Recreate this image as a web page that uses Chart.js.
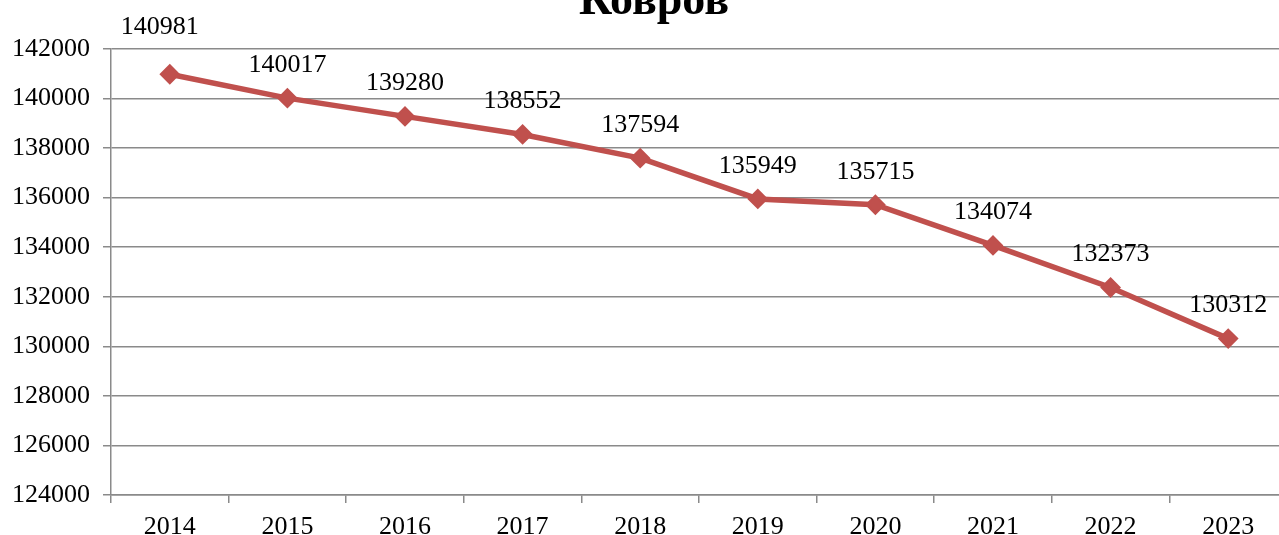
<!DOCTYPE html>
<html>
<head>
<meta charset="utf-8">
<title>Ковров</title>
<script src="https://cdn.jsdelivr.net/npm/chart.js@4/dist/chart.umd.min.js"></script>
<style>
    html, body { margin: 0; padding: 0; background: #fff; overflow: hidden; }
    #wrap { position: relative; width: 1298px; height: 535px; }
</style>
</head>
<body>
<div id="wrap"><canvas id="populationChart"></canvas></div>
<script>
// Chart data
const chartTitle = 'Ковров';
const years = ['2014', '2015', '2016', '2017', '2018', '2019', '2020', '2021', '2022', '2023'];
const population = [140981, 140017, 139280, 138552, 137594, 135949, 135715, 134074, 132373, 130312];
const yMin = 124000;
const yMax = 142000;
const yStep = 2000;

const serif = '"Liberation Serif", "Times New Roman", serif';
const lineColor = '#C0504D';
const gridColor = '#8a8a8a';

// Title drawn on the canvas, partly cut off at the top like the source
const titlePlugin = {
    id: 'cutTitle',
    afterDraw(chart) {
        const ctx = chart.ctx;
        ctx.save();
        ctx.font = 'bold 46px ' + serif;
        ctx.fillStyle = '#000';
        ctx.textAlign = 'center';
        ctx.textBaseline = 'alphabetic';
        ctx.fillText(chartTitle, 654, 14);
        ctx.restore();
    }
};

// Value labels above each point
const valueLabels = {
    id: 'valueLabels',
    afterDatasetsDraw(chart) {
        const ctx = chart.ctx;
        const meta = chart.getDatasetMeta(0);
        ctx.save();
        ctx.font = '26px ' + serif;
        ctx.fillStyle = '#000';
        ctx.textAlign = 'center';
        ctx.textBaseline = 'middle';
        meta.data.forEach((pt, i) => {
            // first label sits higher and a bit to the left
            const dx = i === 0 ? -10 : 0;
            const dy = i === 0 ? 47 : 33;
            ctx.fillText(String(chart.data.datasets[0].data[i]), pt.x + dx, pt.y - dy);
        });
        ctx.restore();
    }
};

new Chart(document.getElementById('populationChart'), {
    type: 'line',
    data: {
        labels: years,
        datasets: [{
            label: chartTitle,
            data: population,
            borderColor: lineColor,
            backgroundColor: lineColor,
            borderWidth: 5.5,
            pointStyle: 'rectRot',
            pointRadius: 9,
            pointBorderWidth: 2,
            pointBackgroundColor: lineColor,
            pointBorderColor: lineColor,
            tension: 0,
            fill: false
        }]
    },
    options: {
        responsive: true,
        maintainAspectRatio: false,
        animation: false,
        layout: { padding: { top: 49, left: 0, right: 0, bottom: 0 } },
        plugins: {
            legend: { display: false },
            title: { display: false },
            tooltip: { enabled: false }
        },
        scales: {
            x: {
                offset: true,
                grid: {
                    offset: true,
                    drawOnChartArea: false,
                    tickLength: 8,
                    color: gridColor,
                    lineWidth: 1.5
                },
                border: { color: gridColor, width: 1.5 },
                ticks: {
                    color: '#000',
                    font: { family: serif, size: 26 },
                    padding: 9,
                    maxRotation: 0,
                    autoSkip: false
                },
                afterFit(scale) { scale.height = 40; }
            },
            y: {
                min: yMin,
                max: yMax,
                grid: {
                    color: gridColor,
                    lineWidth: 1.5,
                    tickLength: 8
                },
                border: { color: gridColor, width: 1.5 },
                ticks: {
                    stepSize: yStep,
                    color: '#000',
                    font: { family: serif, size: 26 },
                    padding: 13,
                    callback: value => String(value)
                },
                afterFit(scale) { scale.width = 111; }
            }
        }
    },
    plugins: [titlePlugin, valueLabels]
});
</script>
</body>
</html>
